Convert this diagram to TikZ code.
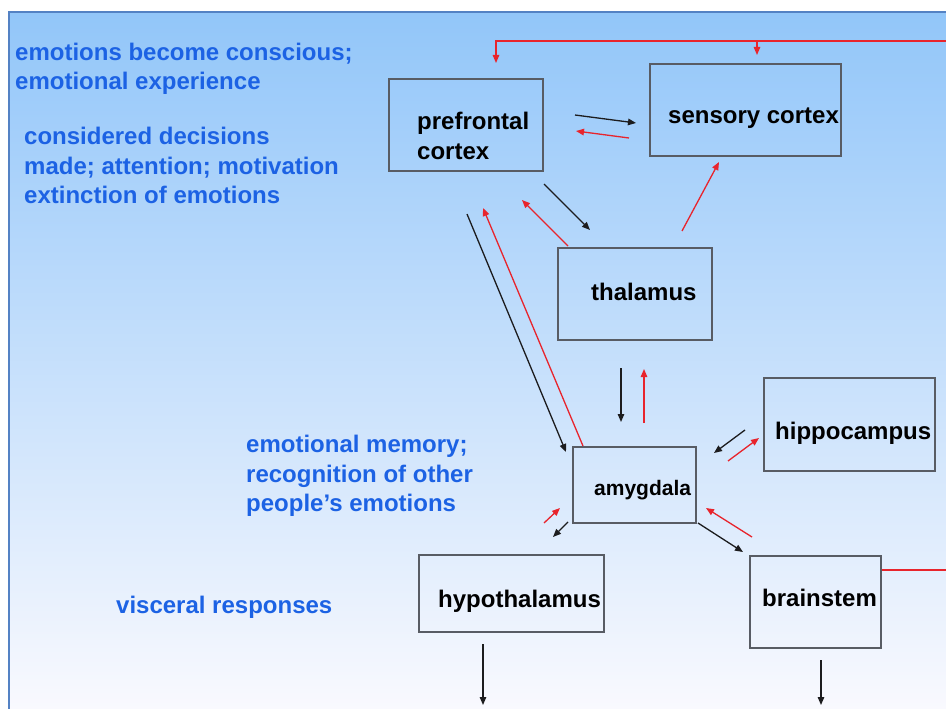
\documentclass[tikz,border=0pt]{standalone}
\usepackage{fontspec}
\setmainfont{Liberation Sans}
\usetikzlibrary{arrows.meta}

\definecolor{panelTop}{RGB}{146,198,249}
\definecolor{panelBot}{RGB}{249,249,254}
\definecolor{frameBlue}{RGB}{84,130,196}
\definecolor{noteBlue}{RGB}{28,98,228}
\definecolor{linkRed}{RGB}{232,36,44}
\definecolor{linkBlack}{RGB}{28,28,30}
\definecolor{boxEdge}{RGB}{88,92,100}

\tikzset{
  region/.style={draw=boxEdge, line width=1.4pt, rectangle, inner sep=0pt},
  boxtext/.style={anchor=base west, inner sep=0pt, text=black,
    font=\fontsize{24}{29}\selectfont\bfseries},
  smallboxtext/.style={boxtext, font=\fontsize{21}{25}\selectfont\bfseries},
  note/.style={anchor=base west, inner sep=0pt, text=noteBlue,
    font=\fontsize{24}{29.5}\selectfont\bfseries},
  fwd/.style={draw=linkBlack, line width=1.3pt,
    -{Triangle[length=8pt,width=6.5pt]}},
  back/.style={draw=linkRed, line width=1.3pt,
    -{Triangle[length=8pt,width=6.5pt]}},
  backline/.style={draw=linkRed, line width=1.3pt},
}

\begin{document}
\begin{tikzpicture}[x=1pt,y=-1pt]
\useasboundingbox (0,0) rectangle (946,709);
\fill[white] (0,0) rectangle (946,709);

% slide panel with its frame
\shade[top color=panelTop, bottom color=panelBot] (9,12) rectangle (946,709);
\draw[frameBlue, line width=2pt] (9,709) -- (9,12) -- (946,12);

% brain regions
\node[region, minimum width=154pt, minimum height=92pt] (pfc) at (466,125) {};
\node[region, minimum width=191pt, minimum height=92pt] (sc)  at (745.5,110) {};
\node[region, minimum width=154pt, minimum height=92pt] (th)  at (635,294) {};
\node[region, minimum width=123pt, minimum height=76pt] (amy) at (634.5,485) {};
\node[region, minimum width=171pt, minimum height=93pt] (hip) at (849.5,424.5) {};
\node[region, minimum width=185pt, minimum height=77pt] (hyp) at (511.5,593.5) {};
\node[region, minimum width=131pt, minimum height=92pt] (bs)  at (815.5,602) {};

\node[boxtext] (pfcA) at (417,129.5) {prefrontal};
\node[boxtext] (pfcB) at (417,159) {cortex};
\node[boxtext] (scA)  at (668,124) {sensory cortex};
\node[boxtext] (thA)  at (591,300) {thalamus};
\node[smallboxtext] (amyA) at (594,495) {amygdala};
\node[boxtext] (hipA) at (775,439) {hippocampus};
\node[boxtext] (hypA) at (438,607) {hypothalamus};
\node[boxtext] (bsA)  at (762,606) {brainstem};

% functions of the regions
\node[note] (n1a) at (15,61)  {emotions become conscious;};
\node[note] (n1b) at (15,90)  {emotional experience};
\node[note] (n2a) at (24,144) {considered decisions};
\node[note] (n2b) at (24,174) {made; attention; motivation};
\node[note] (n2c) at (24,203) {extinction of emotions};
\node[note] (n3a) at (246,452) {emotional memory;};
\node[note] (n3b) at (246,482) {recognition of other};
\node[note] (n3c) at (246,511) {people’s emotions};
\node[note] (n4a) at (116,613) {visceral responses};

% end points of the pathway arrows
\coordinate (pfcToScS) at (575,115);  \coordinate (pfcToScE) at (636,123);
\coordinate (scToPfcS) at (629,138);  \coordinate (scToPfcE) at (576,131);
\coordinate (thToScS)  at (682,231);  \coordinate (thToScE)  at (719,162);
\coordinate (pfcToThS) at (544,184);  \coordinate (pfcToThE) at (590,230);
\coordinate (thToPfcS) at (568,246);  \coordinate (thToPfcE) at (522,200);
\coordinate (pfcToAmS) at (467,214);  \coordinate (pfcToAmE) at (566,452);
\coordinate (amToPfcS) at (583,446);  \coordinate (amToPfcE) at (483,208);
\coordinate (thToAmS)  at (621,368);  \coordinate (thToAmE)  at (621,422);
\coordinate (amToThS)  at (644,423);  \coordinate (amToThE)  at (644,369);
\coordinate (hiToAmS)  at (745,430);  \coordinate (hiToAmE)  at (714,453);
\coordinate (amToHiS)  at (728,461);  \coordinate (amToHiE)  at (759,438);
\coordinate (hyToAmS)  at (544,523);  \coordinate (hyToAmE)  at (560,508);
\coordinate (amToHyS)  at (568,522);  \coordinate (amToHyE)  at (553,537);
\coordinate (amToBsS)  at (698,523);  \coordinate (amToBsE)  at (743,552);
\coordinate (bsToAmS)  at (752,537);  \coordinate (bsToAmE)  at (706,508);
\coordinate (hyOutS)   at (483,644);  \coordinate (hyOutE)   at (483,705);
\coordinate (bsOutS)   at (821,660);  \coordinate (bsOutE)   at (821,705);
% feedback loop from the brainstem back to the cortex
\coordinate (loopTop)  at (946,41);
\coordinate (loopPfc)  at (496,63);
\coordinate (loopSc)   at (757,55);
\coordinate (loopBs)   at (946,570);

\draw[fwd]  (pfcToScS) -- (pfcToScE);
\draw[back] (scToPfcS) -- (scToPfcE);
\draw[back] (thToScS)  -- (thToScE);
\draw[fwd]  (pfcToThS) -- (pfcToThE);
\draw[back] (thToPfcS) -- (thToPfcE);
\draw[fwd]  (pfcToAmS) -- (pfcToAmE);
\draw[back] (amToPfcS) -- (amToPfcE);
\draw[fwd]  (thToAmS)  -- (thToAmE);
\draw[back] (amToThS)  -- (amToThE);
\draw[fwd]  (hiToAmS)  -- (hiToAmE);
\draw[back] (amToHiS)  -- (amToHiE);
\draw[back] (hyToAmS)  -- (hyToAmE);
\draw[fwd]  (amToHyS)  -- (amToHyE);
\draw[fwd]  (amToBsS)  -- (amToBsE);
\draw[back] (bsToAmS)  -- (bsToAmE);
\draw[fwd]  (hyOutS)   -- (hyOutE);
\draw[fwd]  (bsOutS)   -- (bsOutE);

\draw[back] (loopTop) -- (loopTop -| loopPfc) -- (loopPfc);
\draw[back] (loopTop -| loopSc) -- (loopSc);
\draw[backline] (bs.east |- loopBs) -- (loopBs);
\end{tikzpicture}
\end{document}
